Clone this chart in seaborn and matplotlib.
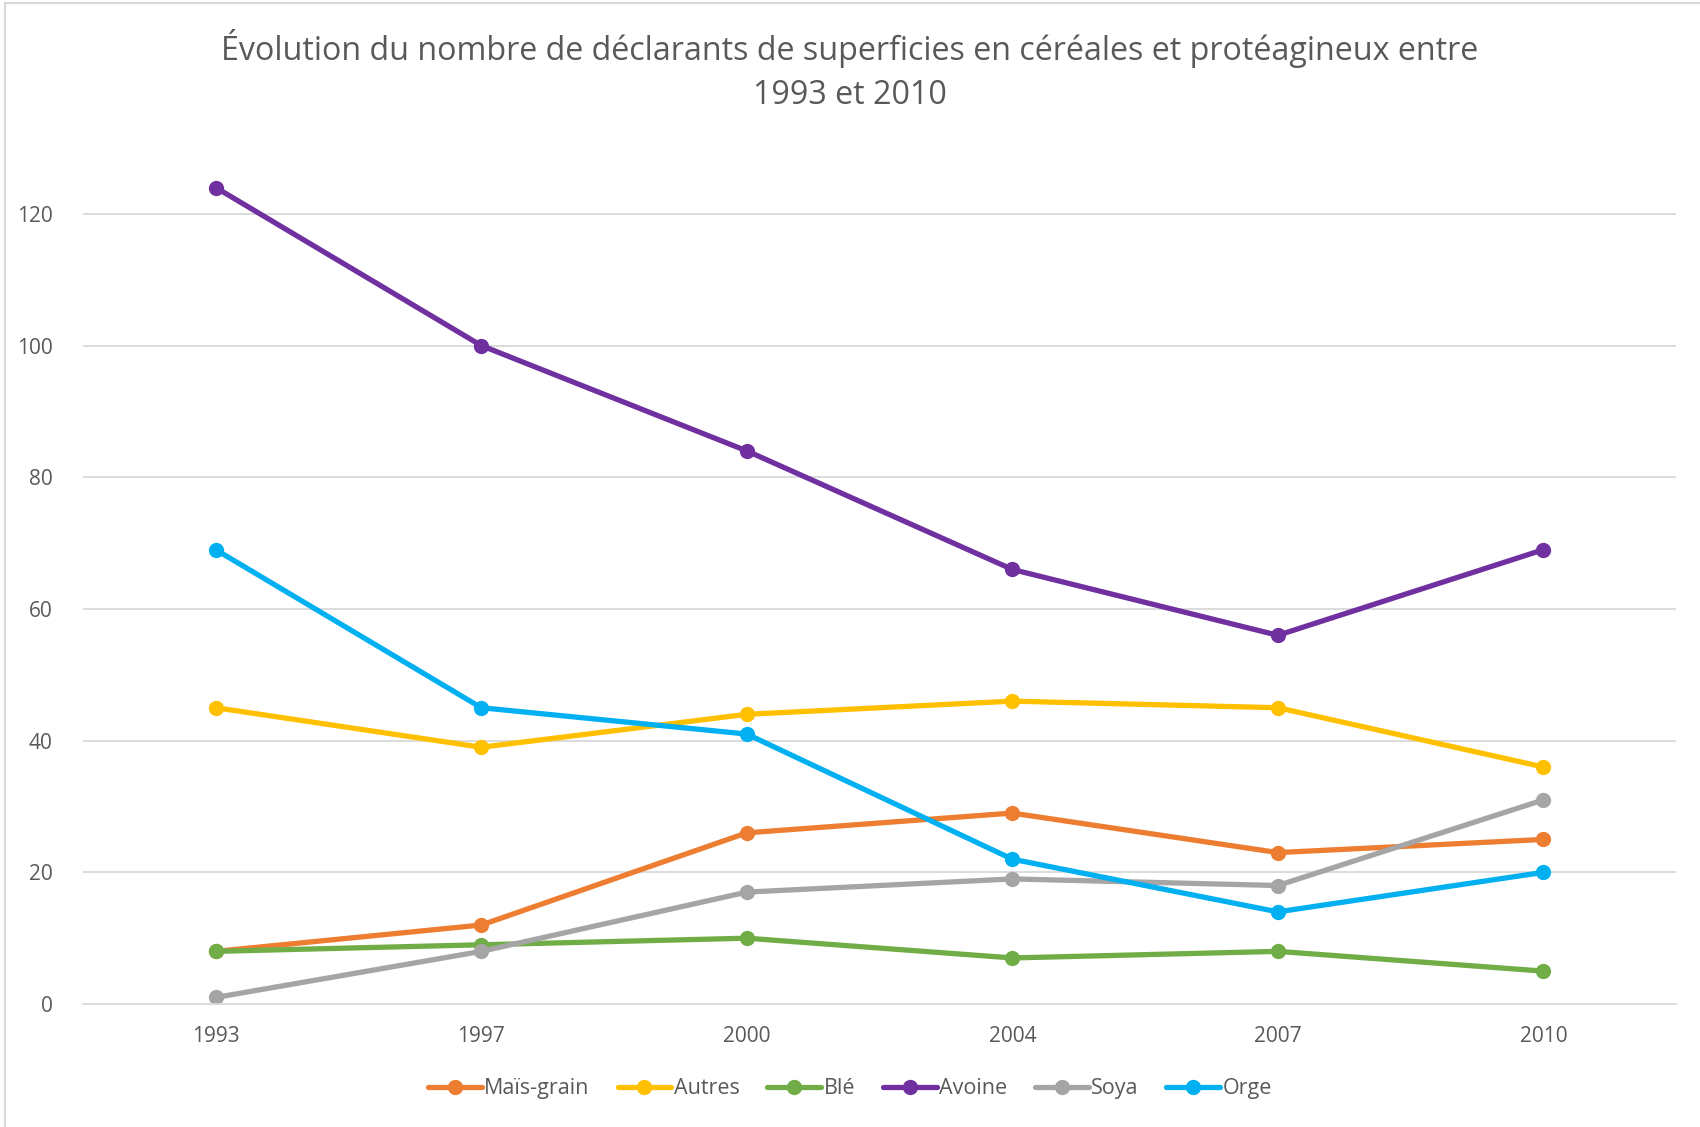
import matplotlib
matplotlib.use("Agg")
import matplotlib.pyplot as plt
import seaborn as sns
import pandas as pd
from matplotlib.lines import Line2D

years = ["1993", "1997", "2000", "2004", "2007", "2010"]
series_names = ["Maïs-grain", "Autres", "Blé", "Avoine", "Soya", "Orge"]
mais_grain = [8, 12, 26, 29, 23, 25]
autres = [45, 39, 44, 46, 45, 36]
ble = [8, 9, 10, 7, 8, 5]
avoine = [124, 100, 84, 66, 56, 69]
soya = [1, 8, 17, 19, 18, 31]
orge = [69, 45, 41, 22, 14, 20]
colors = ["#ED7D31", "#FFC000", "#70AD47", "#7030A0", "#A5A5A5", "#00B0F0"]
title = "Évolution du nombre de déclarants de superficies en céréales et protéagineux entre\n1993 et 2010"

values = [mais_grain, autres, ble, avoine, soya, orge]
rows = []
for name, vals in zip(series_names, values):
    for y, v in zip(years, vals):
        rows.append({"Année": y, "Valeur": v, "Série": name})
df = pd.DataFrame(rows)

sns.set_theme(style="white")
plt.rcParams['font.family'] = ['Open Sans', 'DejaVu Sans']

fig = plt.figure(figsize=(17, 11.27), dpi=100)
ax = fig.add_axes([0.0488, 0.1091, 0.9372, 0.818])

palette = dict(zip(series_names, colors))
sns.lineplot(data=df, x="Année", y="Valeur", hue="Série", hue_order=series_names,
             palette=palette, marker="o", markersize=11, markeredgewidth=0,
             linewidth=3.8, ax=ax, legend=False, sort=False)

ax.set_xlim(-0.5, len(years) - 0.5)
ax.set_ylim(0, 140)
ax.set_yticks([0, 20, 40, 60, 80, 100, 120])
ax.yaxis.grid(True, color="#D9D9D9", linewidth=1.3)
ax.set_axisbelow(True)
for s in ["top", "right", "left"]:
    ax.spines[s].set_visible(False)
ax.spines["bottom"].set_color("#D9D9D9")
ax.spines["bottom"].set_linewidth(1.3)
ax.tick_params(axis="both", length=0, labelsize=15, colors="#595959")
ax.tick_params(axis="x", pad=16)
ax.tick_params(axis="y", pad=22)
ax.set_xlabel("")
ax.set_ylabel("")

fig.text(0.5, 0.9375, title, ha="center", va="center", fontsize=23.2, color="#595959",
         linespacing=1.45)

handles = [Line2D([0], [0], color=c, marker="o", markersize=11, linewidth=3.8,
                  markeredgewidth=0) for c in colors]
leg = fig.legend(handles, series_names, loc="center", bbox_to_anchor=(0.5, 0.034),
                 ncol=6, frameon=False, fontsize=15.5, handlelength=2.5,
                 columnspacing=1.3, handletextpad=0.1)
for t in leg.get_texts():
    t.set_color("#595959")

# chart frame (top and left edges)
fig.add_artist(Line2D([0.003, 1.0], [0.9975, 0.9975], transform=fig.transFigure,
                      color="#D9D9D9", linewidth=1.5))
fig.add_artist(Line2D([0.003, 0.003], [0.0, 0.9975], transform=fig.transFigure,
                      color="#D9D9D9", linewidth=1.5))

fig.savefig("out.png", dpi=100, facecolor="white")
